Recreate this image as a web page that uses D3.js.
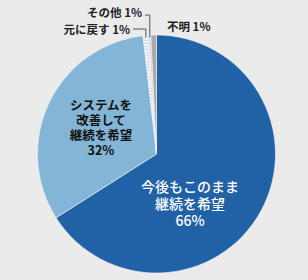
<!DOCTYPE html>
<html><head><meta charset="utf-8">
<script src="https://cdn.jsdelivr.net/npm/d3@7/dist/d3.min.js"></script>
<style>html,body{margin:0;padding:0;background:#ebebeb;}svg{display:block;}</style>
</head><body>
<script>
const categories = ["今後もこのまま継続を希望", "システムを改善して継続を希望", "元に戻す", "その他", "不明"];
const values = [66, 32.2, 0.75, 0.3, 0.75];
const labels = ["66%", "32%", "1%", "1%", "1%"];
const colors = ["#2161a6", "#82b5d6", "url(#dots)", "#d2d2d2", "#a8a8a8"];

const W = 308, H = 280, cx = 156.5, cy = 154, R = 119;
const svg = d3.select("body").append("svg").attr("width", W).attr("height", H);
svg.append("rect").attr("width", W).attr("height", H).attr("fill", "#ebebeb");
const defs = svg.append("defs");
const pat = defs.append("pattern").attr("id", "dots").attr("width", 3).attr("height", 3).attr("patternUnits", "userSpaceOnUse");
pat.append("rect").attr("width", 3).attr("height", 3).attr("fill", "#eef2f6");
pat.append("rect").attr("width", 1).attr("height", 1).attr("fill", "#9fb4c8");

const pie = d3.pie().sort(null).value(d => d)(values);
const arc = d3.arc().innerRadius(0).outerRadius(R);
const g = svg.append("g").attr("transform", `translate(${cx},${cy})`);
g.selectAll("path").data(pie).join("path")
  .attr("d", arc).attr("fill", (d, i) => colors[i])
  .attr("stroke", "#f4f4f4").attr("stroke-width", 0.6);

const font = "'Noto Sans CJK JP', sans-serif";
const big = [
  {i: 0, lines: ["今後もこのまま", "継続を希望", labels[0]], x: 190, y: 187, lh: 17, size: 14, fill: "#fff", weight: 500},
  {i: 1, lines: ["システムを", "改善して", "継続を希望", labels[1]], x: 101, y: 105.5, lh: 15, size: 12.5, fill: "#111", weight: 700}
];
big.forEach(b => {
  const t = svg.append("text").attr("font-family", font).attr("font-size", b.size)
    .attr("font-weight", b.weight).attr("fill", b.fill).attr("text-anchor", "middle");
  b.lines.forEach((l, k) => t.append("tspan").attr("x", b.x).attr("y", b.y + k * b.lh).attr("dy", "0.35em").text(l));
});

function edgeX(d) { const a = (d.startAngle + d.endAngle) / 2; return cx + R * Math.sin(a); }
function edgeY(d) { const a = (d.startAngle + d.endAngle) / 2; return cy - R * Math.cos(a); }
const small = [
  {i: 2, x: 130, y: 30, lineY: 29, anchor: "end"},
  {i: 3, x: 142, y: 13, lineY: 15, anchor: "end"},
  {i: 4, x: 167, y: 27, anchor: "start"}
];
small.forEach(s => {
  svg.append("text").attr("font-family", font).attr("font-size", 11.5).attr("font-weight", 700)
    .attr("fill", "#222").attr("x", s.x).attr("y", s.y).attr("dy", "0.35em")
    .attr("text-anchor", s.anchor).text(categories[s.i] + " " + labels[s.i]);
  if (s.lineY !== undefined) {
    const d = pie[s.i];
    const ex = edgeX(d), ey = edgeY(d);
    svg.append("path").attr("fill", "none").attr("stroke", "#555").attr("stroke-width", 1)
      .attr("d", `M${s.x + 3},${s.lineY}H${ex}V${ey + 2}`);
  }
});
</script>
</body></html>
